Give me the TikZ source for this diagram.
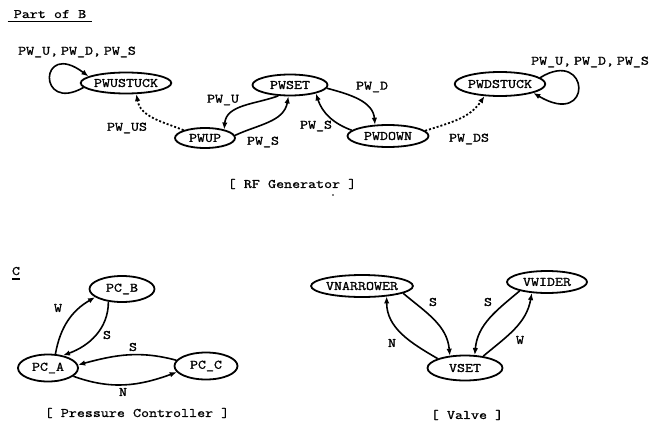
\documentclass[tikz,border=0pt]{standalone}
\usepackage{fontspec}
\newfontfamily\cfont[FakeStretch=1.2,FakeBold=1.2]{Latin Modern Mono}
\newcommand\tsp{\hspace{0.63em}}
\newcommand\nsp{\hspace{0.22em}}
\usetikzlibrary{shapes.geometric,arrows.meta}
\tikzset{
  st/.style={ellipse, draw, line width=1.8bp, inner sep=0pt,
    font=\cfont\fontsize{13}{15}\selectfont},
  lbl/.style={font=\cfont\fontsize{13}{15}\selectfont, inner sep=1pt},
  tr/.style={line width=1.6bp, -{Latex[length=7bp,width=5.5bp]}},
  dottr/.style={tr, dash pattern=on 2bp off 2bp, line width=1.8bp},
}
\begin{document}
\begin{tikzpicture}[x=1bp,y=1bp]
\useasboundingbox (0,0) rectangle (658,429);
% title
\node[lbl, inner xsep=6bp, inner ysep=0pt, anchor=base] (title) at (50,411) {Part\tsp of\tsp B};
\draw[line width=1.2bp] ([yshift=-3.5bp]title.base west) -- ([yshift=-3.5bp]title.base east);
% RF generator states
\node[st, minimum width=87bp, minimum height=21bp] (PWUSTUCK) at (126,346) {PWUSTUCK};
\node[st, minimum width=75bp, minimum height=21bp] (PWSET) at (290,344) {PWSET};
\node[st, minimum width=60bp, minimum height=20bp] (PWUP) at (205,291) {PWUP};
\node[st, minimum width=81bp, minimum height=22bp] (PWDOWN) at (388,293) {PWDOWN};
\node[st, minimum width=87bp, minimum height=24bp] (PWDSTUCK) at (500,345) {PWDSTUCK};
% RF edges
\draw[tr] (PWSET.223) to[out=200,in=85] (PWUP.24);
\draw[tr] (PWUP.5) to[out=25,in=-100] (PWSET.-98);
\draw[tr] (PWSET.-5) to[out=-15,in=95] (PWDOWN.139);
\draw[tr] (PWDOWN.171) to[out=160,in=-72] (PWSET.-18);
\draw[dottr] (PWUP.160) to[out=158,in=-80] (PWUSTUCK.-47);
\draw[dottr] (PWDOWN.8) to[out=18,in=-124] (PWDSTUCK.-142);
\draw[tr] (PWUSTUCK.186) .. controls (37,315) and (39,390) .. (PWUSTUCK.170);
\draw[tr] (PWDSTUCK.9) .. controls (590,382) and (594,300) .. (PWDSTUCK.-15);
% RF labels
\node[lbl] (lL) at (77,377) {PW\_U,\nsp PW\_D,\nsp PW\_S};
\node[lbl] (lR) at (590,367) {PW\_U,\nsp PW\_D,\nsp PW\_S};
\node[lbl] (lU) at (223,329) {PW\_U};
\node[lbl] (lSa) at (263,287) {PW\_S};
\node[lbl] (lD) at (372,342) {PW\_D};
\node[lbl] (lSb) at (316,303) {PW\_S};
\node[lbl] (lUS) at (127,301) {PW\_US};
\node[lbl] (lDS) at (469,290) {PW\_DS};
\node[lbl] (rf) at (292,245) {[\tsp RF\tsp Generator\tsp ]};
\fill (333,234) circle (0.9bp);
% section C
\node[lbl, inner sep=0pt, anchor=base] (secC) at (16,154) {C};
\draw[line width=1.2bp] ([yshift=-4bp]secC.base west) -- ([yshift=-4bp]secC.base east);
% pressure controller
\node[st, minimum width=65bp, minimum height=26bp] (PCB) at (122,140) {PC\_B};
\node[st, minimum width=60bp, minimum height=27bp] (PCA) at (48,61) {PC\_A};
\node[st, minimum width=63bp, minimum height=27bp] (PCC) at (206,63) {PC\_C};
\draw[tr] (PCA.62) to[out=80,in=210] (PCB.197);
\draw[tr] (PCB.-137) to[out=-90,in=20] (PCA.40);
\draw[tr] (PCC.169) to[out=165,in=15] (PCA.6);
\draw[tr] (PCA.-18) to[out=-20,in=-160] (PCC.192);
\node[lbl] (pW) at (58,121) {W};
\node[lbl] (pS1) at (107,94) {S};
\node[lbl] (pS2) at (133,82) {S};
\node[lbl] (pN) at (123,37) {N};
\node[lbl] (pc) at (137,16) {[\tsp Pressure\tsp Controller\tsp ]};
% valve
\node[st, minimum width=100bp, minimum height=22bp] (VN) at (362,143) {VNARROWER};
\node[st, minimum width=80bp, minimum height=22bp] (VW) at (547,147) {VWIDER};
\node[st, minimum width=75bp, minimum height=25bp] (VS) at (465,61) {VSET};
\draw[tr] (VS.161) to[out=150,in=-90] (VN.-23);
\draw[tr] (VN.-10) to[out=-40,in=95] (VS.141);
\draw[tr] (VW.198) to[out=220,in=85] (VS.53);
\draw[tr] (VS.33) to[out=40,in=-100] (VW.-144);
\node[lbl] (vS1) at (433,127) {S};
\node[lbl] (vN) at (392,86) {N};
\node[lbl] (vS2) at (488,127) {S};
\node[lbl] (vW) at (520,89) {W};
\node[lbl] (va) at (467,14) {[\tsp Valve\tsp ]};
\end{tikzpicture}
\end{document}
